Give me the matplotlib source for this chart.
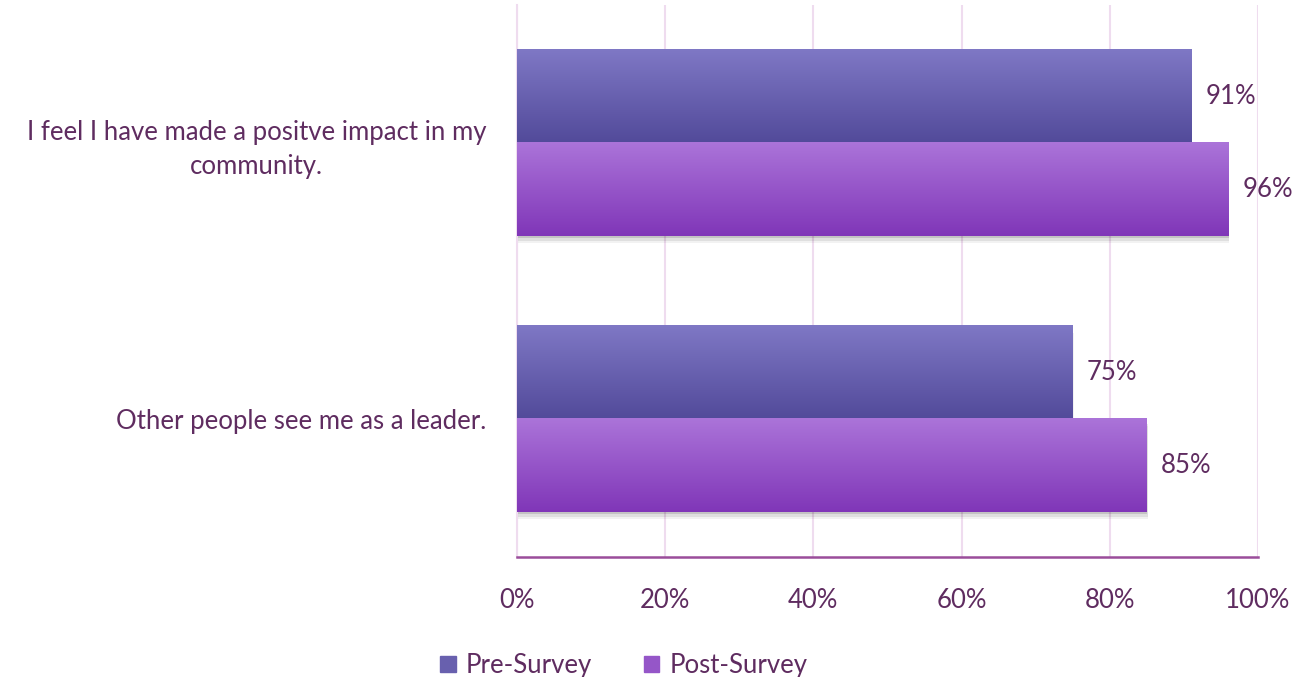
import numpy as np
import matplotlib.pyplot as plt
from matplotlib.patches import Patch, Rectangle
from matplotlib.colors import LinearSegmentedColormap

plt.rcParams['font.family'] = ['Lato', 'DejaVu Sans']

# Survey results (percent agreeing)
categories = ["I feel I have made a positve impact in my\ncommunity.",
              "Other people see me as a leader."]
pre_survey = [91, 75]
post_survey = [96, 85]
series_names = ["Pre-Survey", "Post-Survey"]

text_color = "#5f2c60"
# light at the top of each bar, darker at the bottom
pre_cmap = LinearSegmentedColormap.from_list("pre", ["#7f78c5", "#524a9a"])
post_cmap = LinearSegmentedColormap.from_list("post", ["#ab74d9", "#8036b8"])

fig = plt.figure(figsize=(12.94, 6.77), dpi=100)
ax = fig.add_axes([0.3995, 0.1773, 0.5727, 0.8153])

bar_h = 0.337
y = np.arange(len(categories))
grad = np.linspace(0, 1, 256).reshape(-1, 1)


def gradient_bar(ax, x, yc, h, cmap):
    y0, y1 = yc - h / 2, yc + h / 2
    # soft shadow under the bar
    for i, a in enumerate([0.12, 0.08, 0.05]):
        off = 0.006 * (i + 1)
        ax.add_patch(Rectangle((0, y0 + off * 1.5), x + off * 8, h, color="black",
                               alpha=a, lw=0, zorder=2))
    ax.imshow(grad, cmap=cmap, aspect="auto", extent=[0, x, y1, y0],
              origin="upper", zorder=3, interpolation="bilinear")
    ax.text(x + 1.9, yc, f"{x}%", va="center", ha="left", fontsize=18.5,
            color=text_color, zorder=4, clip_on=False)


for i in y:
    gradient_bar(ax, pre_survey[i], i - bar_h / 2, bar_h, pre_cmap)
    gradient_bar(ax, post_survey[i], i + bar_h / 2, bar_h, post_cmap)

ax.set_xlim(0, 100)
ax.set_ylim(1.5, -0.5)
ax.set_xticks(range(0, 101, 20))
ax.set_xticklabels([f"{v}%" for v in range(0, 101, 20)])
ax.set_yticks(y)
ax.set_yticklabels(categories, multialignment="center", linespacing=1.45)
ax.tick_params(axis="both", length=0, labelsize=18.5, labelcolor=text_color)
ax.tick_params(axis="x", pad=22)
ax.tick_params(axis="y", pad=22)

ax.grid(axis="x", color="#efdcef", lw=1.5, zorder=0)
ax.set_axisbelow(True)
for s in ["top", "right"]:
    ax.spines[s].set_visible(False)
ax.spines["left"].set_color("#efdcef")
ax.spines["left"].set_linewidth(1.5)
ax.spines["bottom"].set_color("#9b4d9b")
ax.spines["bottom"].set_linewidth(1.8)

handles = [Patch(color="#6860ae"), Patch(color="#9556c8")]
fig.legend(handles, series_names, loc="lower center", bbox_to_anchor=(0.482, -0.036),
           ncol=2, frameon=False, fontsize=18.5, handlelength=0.6, handleheight=0.6,
           columnspacing=2.0, handletextpad=0.4, labelcolor=text_color)

fig.savefig("out.png", dpi=100)
